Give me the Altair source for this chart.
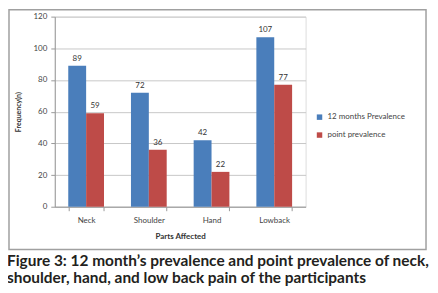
import altair as alt
import pandas as pd

categories = ["Neck", "Shoulder", "Hand", "Lowback"]
series_names = ["12 months Prevalence", "point prevalence"]
twelve_month = [89, 72, 42, 107]
point_prev = [59, 36, 22, 77]
y_ticks = [0, 20, 40, 60, 80, 100, 120]
caption_lines = [
    "Figure 3: 12 month\u2019s prevalence and point prevalence of neck,",
    "shoulder, hand, and low back pain of the participants",
]

rows = []
for c, a, b in zip(categories, twelve_month, point_prev):
    rows.append({"part": c, "series": series_names[0], "value": a})
    rows.append({"part": c, "series": series_names[1], "value": b})
df = pd.DataFrame(rows)

W, H = 252, 191
FONT = "Lato"

x = alt.X("part:N", sort=categories, title="Parts Affected",
          scale=alt.Scale(paddingInner=0.43, paddingOuter=0.215),
          axis=alt.Axis(labelAngle=0, tickBand="extent", labelFontSize=8,
                        labelColor="#444", domainColor="#999", tickColor="#999",
                        tickSize=4, labelPadding=6, titleFontSize=8,
                        titleFontWeight="bold", titleColor="#333", titlePadding=8,
                        labelFont=FONT, titleFont=FONT))
xo = alt.XOffset("series:N", sort=series_names, scale=alt.Scale(paddingInner=0))
y = alt.Y("value:Q", title="Frequency(n)",
          scale=alt.Scale(domain=[0, 120]),
          axis=alt.Axis(values=y_ticks, labelFontSize=8, labelColor="#444",
                        domainColor="#999", tickColor="#999", tickSize=4,
                        gridColor="#c8c8c8", labelPadding=4, titleFontSize=7,
                        titleFontWeight="bold", titleColor="#333", titlePadding=12,
                        labelFont=FONT, titleFont=FONT))
color = alt.Color("series:N", sort=series_names,
                  scale=alt.Scale(domain=series_names, range=["#4A7EBB", "#BE4B48"]),
                  legend=alt.Legend(title=None, orient="none", legendX=262, legendY=97,
                                    symbolType="square", symbolSize=30,
                                    labelFontSize=8, labelColor="#444",
                                    labelFont=FONT, rowPadding=10,
                                    symbolStrokeWidth=0))

one = pd.DataFrame({"a": [0]})
border = alt.Chart(one).mark_rect(
    fillOpacity=0, stroke="#a0a0a0", strokeWidth=1.5
).encode(x=alt.value(-46), x2=alt.value(373), y=alt.value(-7), y2=alt.value(234))

bars = alt.Chart(df).mark_bar().encode(x=x, xOffset=xo, y=y, color=color)
labels = alt.Chart(df).mark_text(dy=-7, fontSize=8, color="#333", font=FONT).encode(
    x=x, xOffset=xo, y=y, text="value:Q", detail="series:N")

cap_layers = []
for i, line in enumerate(caption_lines):
    cap_layers.append(
        alt.Chart(one).mark_text(
            align="left", baseline="alphabetic", fontSize=15.5, fontWeight="bold",
            font=FONT, color="#231f20", text=line
        ).encode(x=alt.value(-48), y=alt.value(251 + 17 * i))
    )

chart = alt.layer(border, bars, labels, *cap_layers).properties(
    width=W, height=H,
    autosize=alt.AutoSizeParams(type="none"),
    padding={"left": 47, "top": 8, "right": 125, "bottom": 82},
).configure_view(stroke=None).configure(background="white")

chart.save("out.html", embed_options={"renderer": "svg", "actions": False})
